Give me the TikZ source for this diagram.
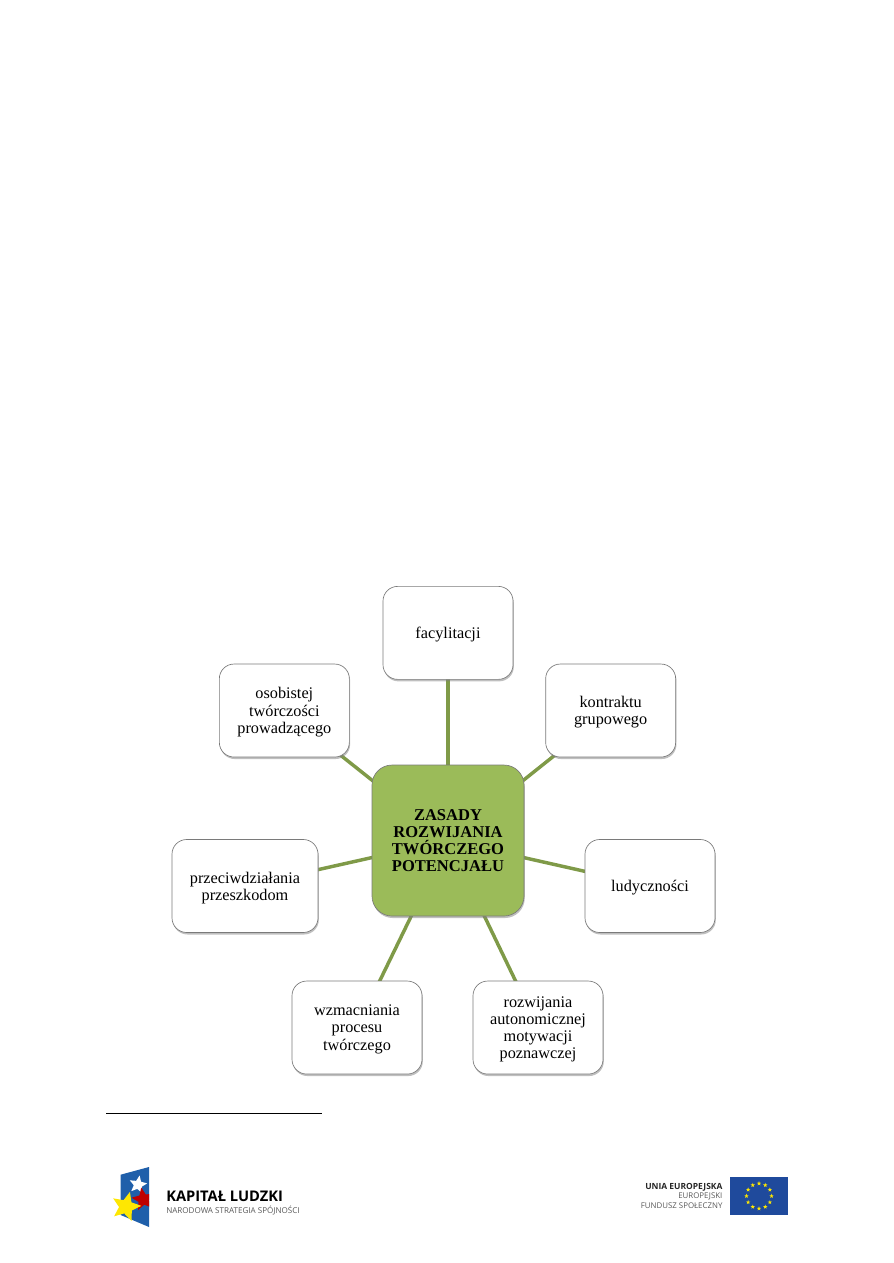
\documentclass[tikz,border=0pt]{standalone}
\usepackage{fontspec}
\setmainfont{Liberation Serif}
\setsansfont{Open Sans}
\usepackage{xcolor}
\usetikzlibrary{positioning, shadows, shapes.geometric, backgrounds, calc}
\definecolor{zielony}{HTML}{9BBB59}
\definecolor{linia}{HTML}{7F9A48}
\definecolor{ramka}{HTML}{7A7A7A}
\definecolor{euniebieski}{HTML}{1F4A9C}
\definecolor{kapniebieski}{HTML}{1F5FAA}
\begin{document}
\begin{tikzpicture}[
x=1pt, y=1pt,
every node/.style={align=center, font=\fontsize{12.2}{12.9}\selectfont},
boxstyle/.style={draw=ramka, fill=white, rounded corners=11pt, minimum width=97.5pt, minimum height=69.75pt, inner sep=0pt, text depth=0pt, line width=0.5pt, drop shadow={shadow xshift=0.6pt, shadow yshift=-1.5pt, opacity=0.5}},
mainbox/.style={boxstyle, fill=zielony, draw=ramka, rounded corners=15pt, minimum width=114pt, minimum height=113.25pt, font=\fontsize{12.4}{12.8}\selectfont\bfseries},
spoke/.style={draw=linia, line width=2.6pt},
logotext/.style={font=\sffamily\fontsize{5.9}{7}\selectfont, text=black!65, inner sep=0pt},
eustar/.style={star, star points=5, star point ratio=2.4, fill=yellow!90!orange, inner sep=0pt, minimum size=3.4pt},
logostar/.style={star, star points=5, star point ratio=2.2, inner sep=0pt}
]
\useasboundingbox (0,0) rectangle (669.75,-947.25);
% Centre
\node[mainbox] (zasady) at (336,-630.4) {ZASADY\\ROZWIJANIA\\TWÓRCZEGO\\POTENCJAŁU};
% Principles around the centre
\node[boxstyle, above=63.75pt of zasady] (facyl) {facylitacji};
\node[boxstyle, above right=5.5pt and 15.75pt of zasady] (kontrakt) {kontraktu\\grupowego};
\node[boxstyle, right=45.25pt of zasady, yshift=-34.1pt] (ludycz) {ludyczności};
\node[boxstyle, below=48.25pt of zasady, xshift=67.5pt] (rozwij) {rozwijania\\autonomicznej\\motywacji\\poznawczej};
\node[boxstyle, below=48.25pt of zasady, xshift=-68.25pt] (wzmacn) {wzmacniania\\procesu\\twórczego};
\node[boxstyle, minimum width=109.5pt, left=40pt of zasady, yshift=-34.1pt] (przeciw) {przeciwdziałania\\przeszkodom};
\node[boxstyle, above left=5.5pt and 16.5pt of zasady] (osobist) {osobistej\\twórczości\\prowadzącego};
% Spokes go behind the boxes
\begin{scope}[on background layer]
\foreach \b in {facyl, kontrakt, ludycz, rozwij, wzmacn, przeciw, osobist}
  \draw[spoke] (zasady.center) -- (\b.center);
\end{scope}
% Footnote rule
\coordinate (stopkaL) at (79.5,-834.75);
\coordinate (stopkaR) at (241.5,-834.75);
\draw[line width=0.6pt] (stopkaL) -- (stopkaR);
% Left logo
\fill[kapniebieski] (90.5,-881) -- (111.75,-875.25) -- (111.75,-920.25) -- (90.5,-911.25) -- cycle;
\node[logostar, fill=white, minimum size=14pt, rotate=-10] (gwiazdaB) at (103.5,-888.5) {};
\begin{scope}
\clip (80,-860) rectangle (111.75,-925);
\node[logostar, fill=red!75!black, minimum size=18pt, rotate=10] (gwiazdaC) at (107.5,-899.5) {};
\end{scope}
\node[logostar, fill=yellow!90!orange, minimum size=23pt, rotate=-15] (gwiazdaZ) at (94.5,-905) {};
\node[logotext, anchor=west, text=black, font=\sffamily\bfseries\fontsize{11}{12}\selectfont] (kapital) at (124.5,-897) {KAPITAŁ LUDZKI};
\node[logotext, anchor=west, font=\sffamily\fontsize{6.05}{7}\selectfont] (narodowa) at (124.5,-907.5) {NARODOWA STRATEGIA SPÓJNOŚCI};
% Right logo
\node[logotext, anchor=east, text=black!85, font=\sffamily\bfseries\fontsize{6.35}{7}\selectfont] (unia) at (542,-890.2) {UNIA EUROPEJSKA};
\node[logotext, anchor=east] (europ) at (542,-897.3) {EUROPEJSKI};
\node[logotext, anchor=east] (fundusz) at (542,-904.5) {FUNDUSZ SPOŁECZNY};
\node[fill=euniebieski, inner sep=0pt, minimum width=43.5pt, minimum height=28.5pt] (flaga) at (569.25,-897) {};
\foreach \i in {1,...,12}
  \node[eustar] (euS\i) at ($(flaga.center)+(\i*30:9.4pt)$) {};
\end{tikzpicture}
\end{document}
